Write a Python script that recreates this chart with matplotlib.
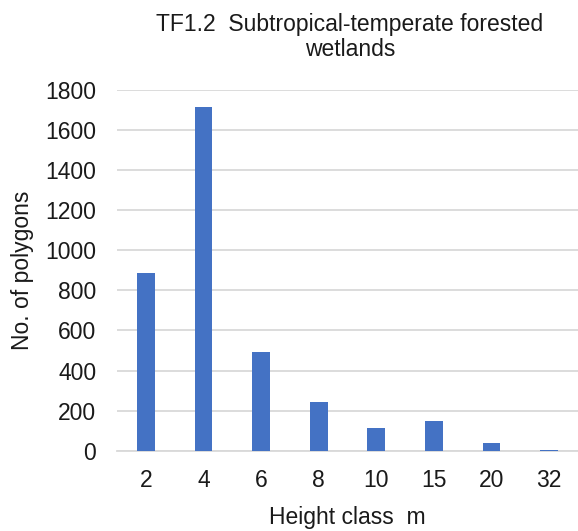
import matplotlib
matplotlib.use('Agg')
import matplotlib.pyplot as plt

height_class = ['2', '4', '6', '8', '10', '15', '20', '32']
n_polygons = [885, 1715, 492, 244, 111, 146, 39, 5]
y_ticks = [0, 200, 400, 600, 800, 1000, 1200, 1400, 1600, 1800]

plt.rcParams['font.family'] = ['Liberation Sans', 'DejaVu Sans']
txt = '#1a1a1a'

fig = plt.figure(figsize=(5.78, 5.31), dpi=100)
ax = fig.add_axes([117/578, 80.3/531, 461/578, 360.7/531])

x = range(len(height_class))
ax.bar(x, n_polygons, width=0.31, color='#4472C4', zorder=3)

ax.set_xlim(-0.5, len(height_class) - 0.5)
ax.set_ylim(0, 1800)
ax.set_yticks(y_ticks)
ax.set_xticks(list(x))
ax.set_xticklabels(height_class)
ax.yaxis.grid(True, color='#D9D9D9', linewidth=1.3, zorder=0)
ax.tick_params(axis='both', length=0, labelsize=16.5, colors=txt)
ax.tick_params(axis='y', pad=15)
ax.tick_params(axis='x', pad=13)
for s in ['top', 'right', 'left']:
    ax.spines[s].set_visible(False)
ax.spines['bottom'].set_color('#D9D9D9')
ax.spines['bottom'].set_linewidth(1.3)

ax.set_xlabel('Height class  m', fontsize=16.5, color=txt, labelpad=10)
ax.set_ylabel('No. of polygons', fontsize=16.5, color=txt, labelpad=8)

fig.text(350/578, 1 - 37/531, 'TF1.2  Subtropical-temperate forested\nwetlands',
         ha='center', va='center', fontsize=16.5, color=txt, linespacing=1.15)

fig.savefig('out.png', dpi=100)
